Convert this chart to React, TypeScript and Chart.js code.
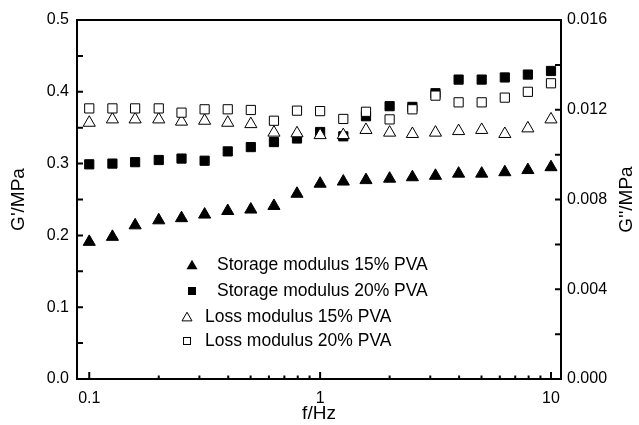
import React, { useEffect, useRef } from "react";
import { Chart, registerables } from "chart.js";

Chart.register(...registerables);

// ---------- data ----------
const frequencies = [0.1, 0.126, 0.158, 0.2, 0.251, 0.316, 0.398, 0.501, 0.631, 0.794, 1, 1.26, 1.58, 2, 2.51, 3.16, 3.98, 5.01, 6.31, 7.94, 10];
const storage15 = [0.191, 0.198, 0.214, 0.221, 0.224, 0.229, 0.234, 0.236, 0.241, 0.258, 0.272, 0.275, 0.277, 0.279, 0.281, 0.283, 0.286, 0.286, 0.288, 0.291, 0.295];
const storage20 = [0.299, 0.300, 0.302, 0.305, 0.307, 0.304, 0.317, 0.323, 0.330, 0.335, 0.344, 0.338, 0.366, 0.380, 0.379, 0.398, 0.417, 0.417, 0.420, 0.424, 0.429];
const loss15 = [0.01142, 0.01157, 0.01157, 0.01157, 0.01147, 0.01151, 0.01142, 0.01136, 0.01098, 0.01095, 0.01087, 0.01087, 0.01110, 0.01098, 0.01092, 0.01098, 0.01105, 0.01110, 0.01092, 0.01117, 0.01157];
const loss20 = [0.01206, 0.01206, 0.01206, 0.01206, 0.01187, 0.01202, 0.01202, 0.01199, 0.01151, 0.01196, 0.01194, 0.01159, 0.01191, 0.01157, 0.01202, 0.01263, 0.01233, 0.01233, 0.01254, 0.01280, 0.01318];

const seriesLabels = ["Storage modulus 15% PVA", "Storage modulus 20% PVA", "Loss modulus 15% PVA", "Loss modulus 20% PVA"];

const xMajorTicks = [0.1, 1, 10];
const xMinorTicks = [0.2, 0.3, 0.4, 0.5, 0.6, 0.7, 0.8, 0.9, 2, 3, 4, 5, 6, 7, 8, 9];
const leftTicks = [0, 0.05, 0.1, 0.15, 0.2, 0.25, 0.3, 0.35, 0.4, 0.45, 0.5];
const rightTicks = [0, 0.002, 0.004, 0.006, 0.008, 0.01, 0.012, 0.014, 0.016];

const xTitle = "f/Hz";
const leftTitle = "G'/MPa";
const rightTitle = "G''/MPa";

const FONT = '"Liberation Sans", Arial, Helvetica, sans-serif';
const TICK_SIZE = 16;
const TITLE_SIZE = 19;

function toPoints(ys: number[]) {
  return frequencies.map((f, i) => ({ x: f, y: ys[i] }));
}

function triPath(ctx: CanvasRenderingContext2D, x: number, y: number, w: number) {
  const h = (w * Math.sqrt(3)) / 2;
  ctx.beginPath();
  ctx.moveTo(x, y - (2 * h) / 3);
  ctx.lineTo(x + w / 2, y + h / 3);
  ctx.lineTo(x - w / 2, y + h / 3);
  ctx.closePath();
}

const decorPlugin = {
  id: "decor",
  afterDraw(chart: any) {
    const { ctx, chartArea: a, scales } = chart;
    const xs = scales.x;
    const yl = scales.y;
    const yr = scales.y2;
    ctx.save();
    ctx.strokeStyle = "#000";
    ctx.fillStyle = "#000";
    ctx.lineWidth = 2;
    ctx.lineCap = "butt";
    // frame
    ctx.strokeRect(a.left, a.top, a.right - a.left, a.bottom - a.top);
    // x ticks (inward)
    ctx.beginPath();
    xMajorTicks.forEach((v) => {
      const p = xs.getPixelForValue(v);
      ctx.moveTo(p, a.bottom);
      ctx.lineTo(p, a.bottom - 7);
    });
    xMinorTicks.forEach((v) => {
      const p = xs.getPixelForValue(v);
      ctx.moveTo(p, a.bottom);
      ctx.lineTo(p, a.bottom - 3.5);
    });
    // left ticks
    leftTicks.forEach((v) => {
      const p = yl.getPixelForValue(v);
      ctx.moveTo(a.left, p);
      ctx.lineTo(a.left + 6, p);
    });
    // right ticks
    rightTicks.forEach((v) => {
      const p = yr.getPixelForValue(v);
      ctx.moveTo(a.right, p);
      ctx.lineTo(a.right - 6, p);
    });
    ctx.stroke();

    // axis titles
    ctx.font = `${TITLE_SIZE}px ${FONT}`;
    ctx.textAlign = "center";
    ctx.textBaseline = "middle";
    ctx.fillText(xTitle, (a.left + a.right) / 2, 414);
    const cy = (a.top + a.bottom) / 2;
    ctx.save();
    ctx.translate(19, cy);
    ctx.rotate(-Math.PI / 2);
    ctx.fillText(leftTitle, 0, 0);
    ctx.restore();
    ctx.save();
    ctx.translate(627, cy);
    ctx.rotate(-Math.PI / 2);
    ctx.fillText(rightTitle, 0, 0);
    ctx.restore();

    // legend inside plot
    ctx.font = `17.5px ${FONT}`;
    ctx.textAlign = "left";
    ctx.textBaseline = "middle";
    const rows = [265, 291, 317, 341];
    ctx.lineWidth = 1;
    triPath(ctx, 192, rows[0] + 1, 11);
    ctx.fill();
    ctx.fillText(seriesLabels[0], 217, rows[0]);
    ctx.fillRect(192 - 4, rows[1] - 4, 8, 8);
    ctx.fillText(seriesLabels[1], 217, rows[1]);
    triPath(ctx, 187, rows[2] + 1, 10);
    ctx.stroke();
    ctx.fillText(seriesLabels[2], 205, rows[2]);
    ctx.strokeRect(187 - 3.5, rows[3] - 3.5, 7, 7);
    ctx.fillText(seriesLabels[3], 205, rows[3]);
    ctx.restore();
  },
};

export default function App() {
  const ref = useRef<HTMLCanvasElement | null>(null);
  useEffect(() => {
    document.body.style.margin = "0";
    const canvas = ref.current;
    if (!canvas) return;
    const tickFont = { family: FONT, size: TICK_SIZE };
    const chart = new Chart(canvas, {
      type: "scatter",
      data: {
        datasets: [
          {
            label: seriesLabels[0],
            data: toPoints(storage15),
            yAxisID: "y",
            pointStyle: "triangle",
            pointRadius: 7,
            borderWidth: 1,
            backgroundColor: "#000",
            borderColor: "#000",
            order: 4,
          },
          {
            label: seriesLabels[1],
            data: toPoints(storage20),
            yAxisID: "y",
            pointStyle: "rect",
            pointRadius: 6.5,
            borderWidth: 1,
            backgroundColor: "#000",
            borderColor: "#000",
            order: 3,
          },
          {
            label: seriesLabels[2],
            data: toPoints(loss15),
            yAxisID: "y2",
            pointStyle: "triangle",
            pointRadius: 7,
            borderWidth: 1,
            backgroundColor: "#fff",
            borderColor: "#000",
            order: 2,
          },
          {
            label: seriesLabels[3],
            data: toPoints(loss20),
            yAxisID: "y2",
            pointStyle: "rect",
            pointRadius: 6.5,
            borderWidth: 1,
            backgroundColor: "#fff",
            borderColor: "#000",
            order: 1,
          },
        ],
      },
      options: {
        responsive: false,
        animation: false,
        events: [],
        layout: { padding: { top: 20, left: 0, right: 0, bottom: 0 } },
        plugins: { legend: { display: false }, tooltip: { enabled: false } },
        scales: {
          x: {
            type: "logarithmic",
            position: "bottom",
            min: 0.0885,
            max: 11.05,
            grid: { display: false, drawTicks: false },
            border: { display: false },
            afterBuildTicks: (s: any) => {
              s.ticks = xMajorTicks.map((v) => ({ value: v }));
            },
            afterFit: (s: any) => {
              s.height = 46;
            },
            ticks: {
              autoSkip: false,
              maxRotation: 0,
              padding: 10,
              color: "#000",
              font: tickFont,
              callback: (v: any) => String(v),
            },
          },
          y: {
            type: "linear",
            position: "left",
            min: 0,
            max: 0.5,
            grid: { display: false, drawTicks: false },
            border: { display: false },
            afterFit: (s: any) => {
              s.width = 77;
            },
            ticks: {
              stepSize: 0.1,
              padding: 8,
              color: "#000",
              font: tickFont,
              callback: (v: any) => Number(v).toFixed(1),
            },
          },
          y2: {
            type: "linear",
            position: "right",
            min: 0,
            max: 0.016,
            grid: { display: false, drawTicks: false },
            border: { display: false },
            afterFit: (s: any) => {
              s.width = 78;
            },
            ticks: {
              stepSize: 0.004,
              padding: 6,
              color: "#000",
              font: tickFont,
              callback: (v: any) => Number(v).toFixed(3),
            },
          },
        },
      },
      plugins: [decorPlugin],
    });
    return () => chart.destroy();
  }, []);
  return (
    <div style={{ width: 639, height: 425, background: "#fff" }}>
      <canvas ref={ref} width={639} height={425} style={{ display: "block" }} />
    </div>
  );
}
